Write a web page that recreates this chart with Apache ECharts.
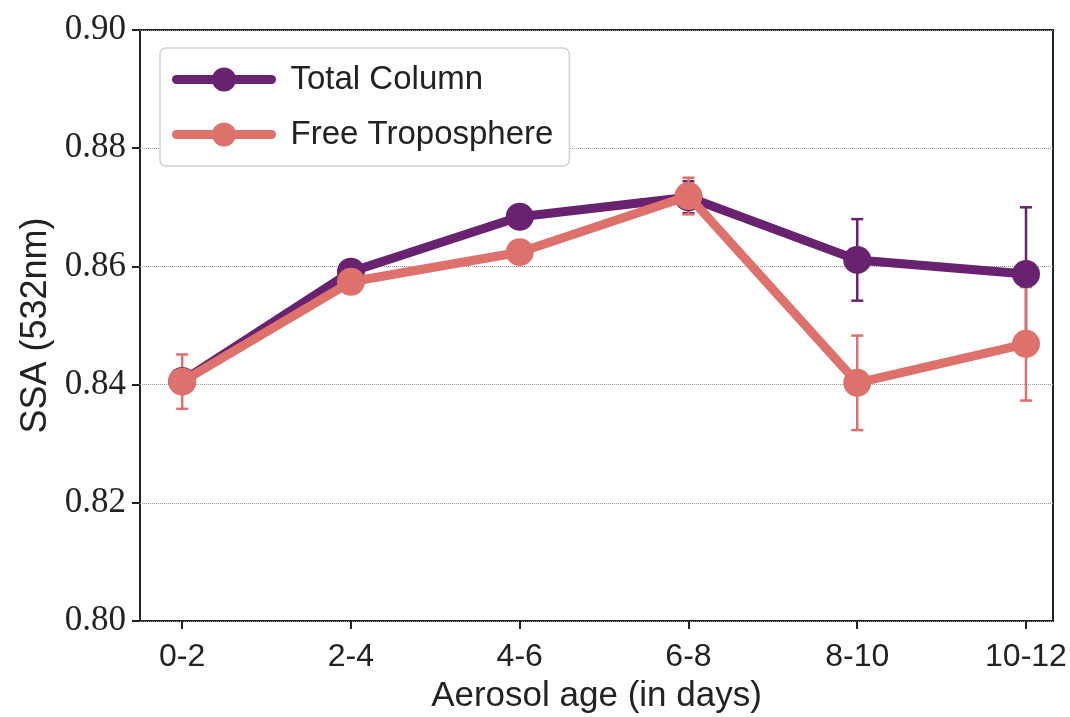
<!DOCTYPE html>
<html>
<head>
<meta charset="utf-8">
<script src="https://cdn.jsdelivr.net/npm/echarts@6/dist/echarts.min.js"></script>
<style>
  html, body { margin: 0; padding: 0; background: #fff; }
  #main { width: 1070px; height: 717px; }
</style>
</head>
<body>
<div id="main"></div>
<script>
// 数据
var ageBins = ['0-2', '2-4', '4-6', '6-8', '8-10', '10-12'];
var totalColumn = [0.8406, 0.8591, 0.8684, 0.8717, 0.8611, 0.8587];
var totalColumnErr = [0.0010, 0.0010, 0.0008, 0.0027, 0.0069, 0.0113];
var freeTropo = [0.8405, 0.8574, 0.8624, 0.8719, 0.8403, 0.8469];
var freeTropoErr = [0.0046, 0.0010, 0.0010, 0.0031, 0.0080, 0.0096];

var purple = '#68226f';
var salmon = '#df716d';

function toPoints(vals) {
  return vals.map(function (v, i) { return [i, v]; });
}
function toErr(vals, errs) {
  return vals.map(function (v, i) { return [i, v - errs[i], v + errs[i]]; });
}

// 误差棒
function errorBar(color) {
  return function (params, api) {
    var lo = api.coord([api.value(0), api.value(1)]);
    var hi = api.coord([api.value(0), api.value(2)]);
    var w = 6;
    var st = { stroke: color, lineWidth: 2.5 };
    return {
      type: 'group',
      children: [
        { type: 'line', shape: { x1: lo[0], y1: lo[1], x2: hi[0], y2: hi[1] }, style: st },
        { type: 'line', shape: { x1: lo[0] - w, y1: lo[1], x2: lo[0] + w, y2: lo[1] }, style: st },
        { type: 'line', shape: { x1: hi[0] - w, y1: hi[1], x2: hi[0] + w, y2: hi[1] }, style: st }
      ]
    };
  };
}

var chart = echarts.init(document.getElementById('main'));
var option = {
  animation: false,
  grid: {
    left: 140, right: 17, top: 30, bottom: 96,
    outerBoundsMode: 'none',
    containLabel: false,
    show: true, borderColor: '#222', borderWidth: 2, backgroundColor: 'transparent'
  },
  legend: {
    left: 160, top: 48,
    orient: 'vertical',
    data: ['Total Column', 'Free Troposphere'],
    itemWidth: 95, itemHeight: 30, itemGap: 22,
    padding: [15, 16, 15, 12],
    borderColor: '#d0d0d0', borderWidth: 1.5, borderRadius: 6,
    backgroundColor: '#fff',
    lineStyle: { width: 9, cap: 'round' },
    textStyle: { fontFamily: 'Liberation Sans', fontSize: 33, color: '#222', padding: [0, 0, 0, 14] }
  },
  xAxis: {
    type: 'value',
    min: -0.25, max: 5.16,
    name: 'Aerosol age (in days)',
    nameLocation: 'middle',
    nameGap: 58,
    nameTextStyle: { fontFamily: 'Liberation Sans', fontSize: 35, color: '#222' },
    axisLine: { show: false, onZero: false },
    splitLine: { show: false },
    axisTick: { show: true, length: 8, inside: false, customValues: [0, 1, 2, 3, 4, 5], lineStyle: { color: '#222', width: 2 } },
    axisLabel: {
      customValues: [0, 1, 2, 3, 4, 5],
      formatter: function (v) { return ageBins[Math.round(v)]; },
      fontFamily: 'Liberation Sans', fontSize: 32, color: '#222', margin: 20
    }
  },
  yAxis: {
    type: 'value',
    min: 0.80, max: 0.90, interval: 0.02,
    name: 'SSA (532nm)',
    nameLocation: 'middle',
    nameGap: 86,
    nameTextStyle: { fontFamily: 'Liberation Sans', fontSize: 36, color: '#222' },
    axisLine: { show: false, onZero: false },
    axisTick: { show: true, length: 8, lineStyle: { color: '#222', width: 2 } },
    splitLine: { show: true, lineStyle: { color: '#999', type: 'dotted', width: 1 } },
    axisLabel: {
      formatter: function (v) { return v.toFixed(2); },
      fontFamily: 'Liberation Serif', fontSize: 35, color: '#222', margin: 14
    }
  },
  series: [
    {
      name: 'Total Column',
      type: 'line',
      data: toPoints(totalColumn),
      symbol: 'circle', symbolSize: 28,
      lineStyle: { color: purple, width: 9 },
      itemStyle: { color: purple },
      z: 2
    },
    {
      name: 'Free Troposphere',
      type: 'line',
      data: toPoints(freeTropo),
      symbol: 'circle', symbolSize: 28,
      lineStyle: { color: salmon, width: 9 },
      itemStyle: { color: salmon },
      z: 3
    },
    {
      name: 'tc-err',
      type: 'custom',
      renderItem: errorBar(purple),
      data: toErr(totalColumn, totalColumnErr),
      encode: { x: 0, y: [1, 2] },
      z: 1,
      silent: true
    },
    {
      name: 'ft-err',
      type: 'custom',
      renderItem: errorBar(salmon),
      data: toErr(freeTropo, freeTropoErr),
      encode: { x: 0, y: [1, 2] },
      z: 1,
      silent: true
    }
  ]
};
chart.setOption(option);
</script>
</body>
</html>
